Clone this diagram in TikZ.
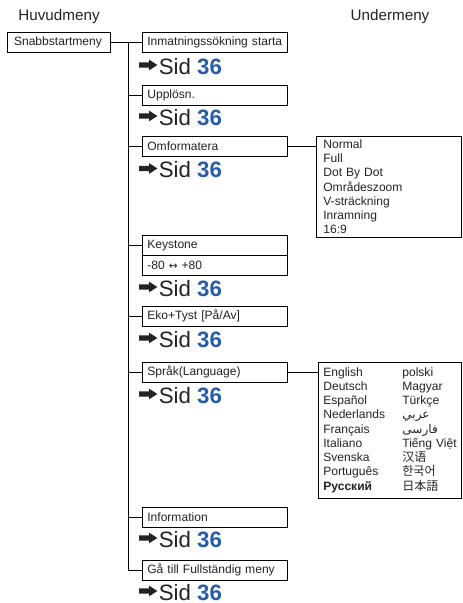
\documentclass[tikz,border=0pt]{standalone}
\usepackage{fontspec}
\usepackage{xcolor}
\setmainfont{Liberation Sans}
\newfontfamily\dejavu{DejaVu Sans}
\newfontfamily\arabicfont[Script=Arabic]{DejaVu Sans}
\newfontfamily\cjksc{Noto Sans CJK SC}
\newfontfamily\cjkkr{Noto Sans CJK KR}
\newfontfamily\cjkjp{Noto Sans CJK JP}
\TeXXeTstate=1
\usetikzlibrary{arrows.meta,positioning,calc}
\definecolor{RefBlue}{RGB}{38,92,170}
\definecolor{TextGray}{RGB}{35,35,35}
% chunky pointer before each page reference
\newcommand{\sidarrow}{\tikz[baseline=0pt,x=1pt,y=1pt]\fill[TextGray]
  (0,5.5)--(8.5,5.5)--(8.5,3.2)--(15.5,7.7)--(8.5,12.2)--(8.5,9.9)--(0,9.9)--cycle;}
\newcommand{\sidref}{\sidarrow\hspace{1.2pt}Sid {\bfseries\color{RefBlue}36}}

\begin{document}
\begin{tikzpicture}[x=0.03cm, y=-0.03cm, line width=0.6pt,
    every node/.style={text=TextGray},
    head/.style={font=\fontsize{13}{15}\selectfont},
    menubox/.style={draw, anchor=north west, minimum height=0.6cm, inner ysep=0pt,
      inner xsep=0.15cm, text width=4.05cm, font=\fontsize{10.3}{12}\selectfont},
    listbox/.style={draw, anchor=north west, inner ysep=0pt, font=\fontsize{10.3}{12.1}\selectfont},
    sidline/.style={anchor=base west, inner sep=0pt, font=\fontsize{19}{19}\selectfont}]
        \useasboundingbox (0,0) rectangle (462,603);
        % headings
        \node[head] (huvud) at (59,17) {Huvudmeny};
        \node[head] (under) at (390,17) {Undermeny};
        % main menu and its items
        \node[menubox, text width=2.69cm, inner xsep=0.2cm] (snab) at (7,32) {Snabbstartmeny};
        \node[menubox] (inm) at (142,32) {Inmatningssökning starta};
        \node[menubox] (upp) at (142,85) {Upplösn.};
        \node[menubox] (omf) at (142,136) {Omformatera};
        \node[menubox] (ks) at (142,235) {Keystone};
        \node[menubox] (ksval) at (142,255) {-80 {\dejavu\fontsize{9}{9}\selectfont ↔} +80};
        \node[menubox] (eko) at (142,306) {Eko+Tyst [På/Av]};
        \node[menubox] (spr) at (142,362) {Språk(Language)};
        \node[menubox] (info) at (142,507) {Information};
        \node[menubox] (gaa) at (142,560) {Gå till Fullständig meny};
        \foreach \n/\y in {1/74,2/125,3/177.5,4/296,5/347,6/403,7/547,8/600}
          \node[sidline] (sid\n) at (139,\y) {\sidref};
        % sub menus
        \node[listbox, inner xsep=0.21cm, text width=3.93cm, minimum height=3.03cm] (fmtlist) at (316,136)
          {Normal\\Full\\Dot By Dot\\Områdeszoom\\V-sträckning\\Inramning\\16:9};
        \node[listbox, inner xsep=0.15cm, text width=3.99cm, minimum height=4.08cm] (langlist) at (318,362) {%
          \begin{tabular}{@{}p{2.37cm}@{}l@{}}
            English & polski\\
            Deutsch & Magyar\\
            Español & Türkçe\\
            Nederlands & {\arabicfont\beginR عربي\endR}\\
            Français & {\arabicfont\beginR فارسی\endR}\\
            Italiano & Tiếng Việt\\
            Svenska & {\cjksc 汉语}\\
            Português & {\cjkkr 한국어}\\
            {\bfseries Русский} & {\cjkjp 日本語}
          \end{tabular}};
        % connectors
        \coordinate (trunktop) at (128,42);
        \draw (snab.east) -- (inm.west);
        \draw (trunktop) |- (gaa.west);
        \foreach \n in {upp,omf,ks,eko,spr,info}
          \draw (trunktop |- \n.west) -- (\n.west);
        \draw (omf.east) -- (omf.east -| fmtlist.west);
        \draw (spr.east) -- (spr.east -| langlist.west);
\end{tikzpicture}
\end{document}
